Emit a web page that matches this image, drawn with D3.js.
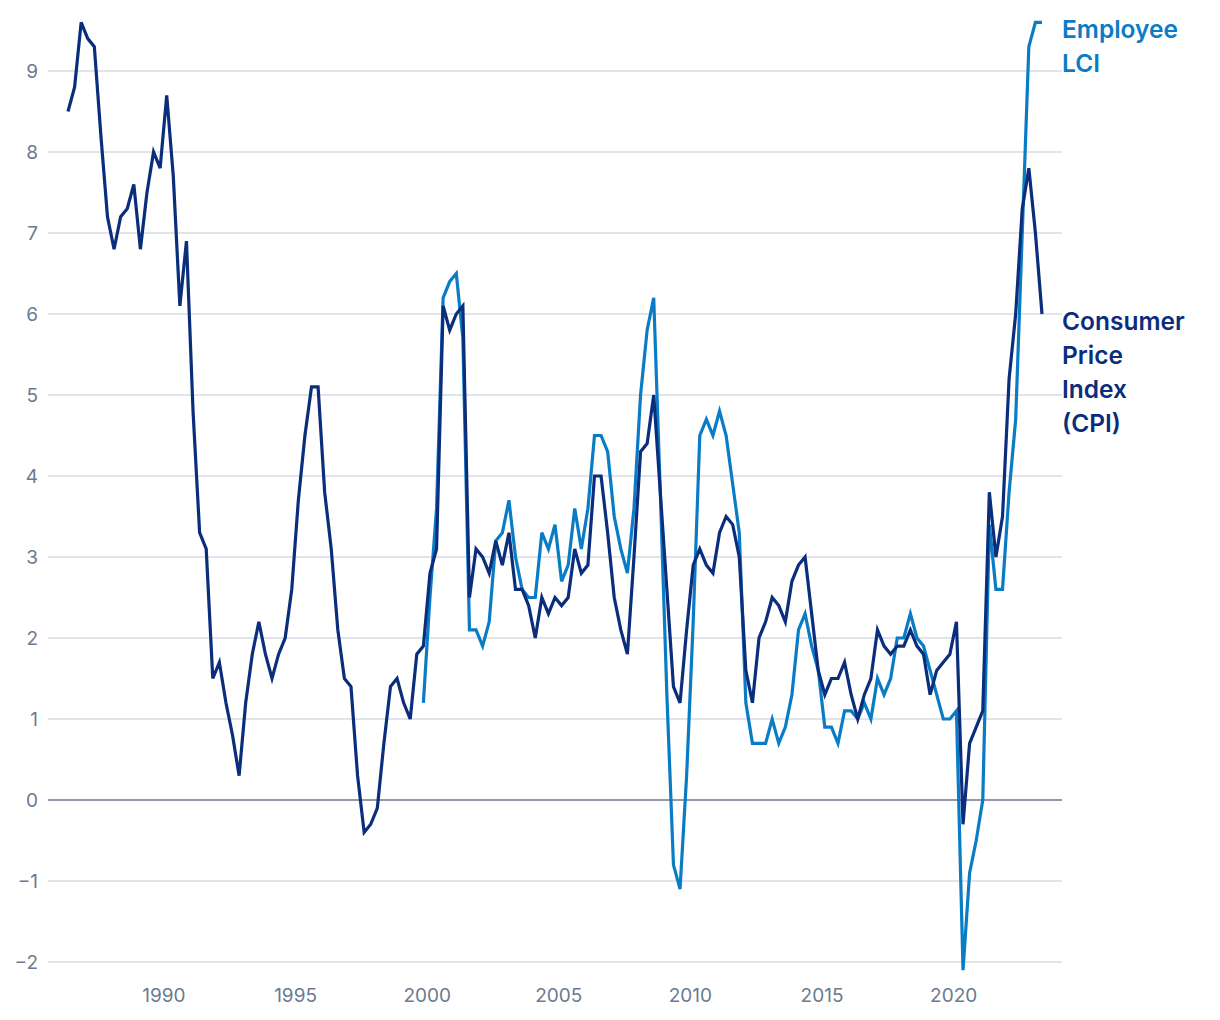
<!DOCTYPE html>
<html><head><meta charset="utf-8">
<script src="https://cdn.jsdelivr.net/npm/d3@7"></script>
<style>body{margin:0;background:#fff}</style>
</head><body><svg id="chart" width="1220" height="1020"></svg>
<script>
// ---- data (quarterly, annual % change) ----
const cpiStart = { year: 1986, quarter: 2 };
const cpiValues = [
  8.5, 8.8, 9.6, 9.4, 9.3, 8.2, 7.2, 6.8, 7.2, 7.3,
  7.6, 6.8, 7.5, 8.0, 7.8, 8.7, 7.7, 6.1, 6.9, 4.8,
  3.3, 3.1, 1.5, 1.7, 1.2, 0.8, 0.3, 1.2, 1.8, 2.2,
  1.8, 1.5, 1.8, 2.0, 2.6, 3.7, 4.5, 5.1, 5.1, 3.8,
  3.1, 2.1, 1.5, 1.4, 0.3, -0.4, -0.3, -0.1, 0.7, 1.4,
  1.5, 1.2, 1.0, 1.8, 1.9, 2.8, 3.1, 6.1, 5.8, 6.0,
  6.1, 2.5, 3.1, 3.0, 2.8, 3.2, 2.9, 3.3, 2.6, 2.6,
  2.4, 2.0, 2.5, 2.3, 2.5, 2.4, 2.5, 3.1, 2.8, 2.9,
  4.0, 4.0, 3.3, 2.5, 2.1, 1.8, 3.0, 4.3, 4.4, 5.0,
  3.8, 2.6, 1.4, 1.2, 2.1, 2.9, 3.1, 2.9, 2.8, 3.3,
  3.5, 3.4, 3.0, 1.6, 1.2, 2.0, 2.2, 2.5, 2.4, 2.2,
  2.7, 2.9, 3.0, 2.3, 1.6, 1.3, 1.5, 1.5, 1.7, 1.3,
  1.0, 1.3, 1.5, 2.1, 1.9, 1.8, 1.9, 1.9, 2.1, 1.9,
  1.8, 1.3, 1.6, 1.7, 1.8, 2.2, -0.3, 0.7, 0.9, 1.1,
  3.8, 3.0, 3.5, 5.2, 6.0, 7.3, 7.8, 7.0, 6.0
];
const lciStart = { year: 1999, quarter: 4 };
const lciValues = [
  1.2, 2.5, 3.6, 6.2, 6.4, 6.5, 5.7, 2.1, 2.1, 1.9,
  2.2, 3.2, 3.3, 3.7, 3.0, 2.6, 2.5, 2.5, 3.3, 3.1,
  3.4, 2.7, 2.9, 3.6, 3.1, 3.6, 4.5, 4.5, 4.3, 3.5,
  3.1, 2.8, 3.6, 5.0, 5.8, 6.2, 3.8, 1.3, -0.8, -1.1,
  0.3, 2.2, 4.5, 4.7, 4.5, 4.8, 4.5, 3.9, 3.3, 1.2,
  0.7, 0.7, 0.7, 1.0, 0.7, 0.9, 1.3, 2.1, 2.3, 1.9,
  1.6, 0.9, 0.9, 0.7, 1.1, 1.1, 1.0, 1.2, 1.0, 1.5,
  1.3, 1.5, 2.0, 2.0, 2.3, 2.0, 1.9, 1.6, 1.3, 1.0,
  1.0, 1.1, -2.1, -0.9, -0.5, 0.0, 3.4, 2.6, 2.6, 3.8,
  4.7, 7.0, 9.3, 9.6, 9.6
];
const yTicks = [-2, -1, 0, 1, 2, 3, 4, 5, 6, 7, 8, 9];
const xTickYears = [1990, 1995, 2000, 2005, 2010, 2015, 2020];
const lciLabel = ["Employee", "LCI"];
const cpiLabel = ["Consumer", "Price", "Index", "(CPI)"];

// ---- helpers ----
const qTime = (start, i) => start.year + (start.quarter - 1) / 4 + 0.125 + i * 0.25;
const cpi = cpiValues.map((v, i) => ({ t: qTime(cpiStart, i), v }));
const lci = lciValues.map((v, i) => ({ t: qTime(lciStart, i), v }));

const colors = { cpi: "#0a2d7c", lci: "#0a7cc6", grid: "#d7dce5", zero: "#6c778a", tick: "#6b7a90" };
const gridLeft = 48, gridRight = 1062;
const fontFamily = "Inter, 'Noto Sans', sans-serif";

const x = d3.scaleLinear()
  .domain([cpi[0].t, cpi[cpi.length - 1].t])
  .range([68, 1042]);
const y = d3.scaleLinear().domain([-2, 9]).range([962, 71]);

const svg = d3.select("#chart");

// gridlines
svg.append("g").selectAll("line").data(yTicks).join("line")
  .attr("x1", gridLeft).attr("x2", gridRight)
  .attr("y1", d => y(d)).attr("y2", d => y(d))
  .attr("stroke", d => d === 0 ? colors.zero : colors.grid)
  .attr("stroke-width", 1.5);

// y axis labels
const yAxis = d3.axisLeft(y).tickValues(yTicks).tickSize(0).tickPadding(0);
const gy = svg.append("g").attr("transform", "translate(38,0)").call(yAxis);
gy.select(".domain").remove();
gy.selectAll("text")
  .attr("fill", colors.tick)
  .style("font-family", fontFamily)
  .style("font-size", "19px");

// x axis labels
const xAxis = d3.axisBottom(x).tickValues(xTickYears).tickFormat(d3.format("d")).tickSize(0).tickPadding(0);
const gx = svg.append("g").attr("transform", "translate(0,988)").call(xAxis);
gx.select(".domain").remove();
gx.selectAll("text")
  .attr("fill", colors.tick)
  .style("font-family", fontFamily)
  .style("font-size", "19px");

// lines
const line = d3.line().x(d => x(d.t)).y(d => y(d.v));
svg.append("path").datum(lci).attr("d", line)
  .attr("fill", "none").attr("stroke", colors.lci).attr("stroke-width", 3.2);
svg.append("path").datum(cpi).attr("d", line)
  .attr("fill", "none").attr("stroke", colors.cpi).attr("stroke-width", 3.2);

// series labels, first line placed just below each series' last value
function label(lines, color, firstBaseline) {
  svg.append("text")
    .attr("x", 1062).attr("y", firstBaseline)
    .attr("fill", color)
    .style("font-family", fontFamily)
    .style("font-size", "24.5px").style("font-weight", 600)
    .selectAll("tspan").data(lines).join("tspan")
    .attr("x", 1062).attr("dy", (d, i) => i === 0 ? 0 : 34)
    .text(d => d);
}
label(lciLabel, colors.lci, y(lciValues[lciValues.length - 1]) + 16);
label(cpiLabel, colors.cpi, y(cpiValues[cpiValues.length - 1]) + 16);
</script>
</body></html>
